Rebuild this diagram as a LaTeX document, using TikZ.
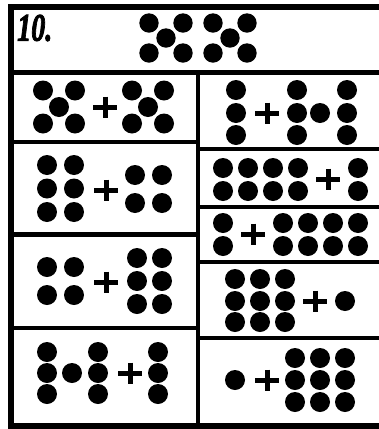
\documentclass[tikz,border=0pt]{standalone}
\usepackage{fontspec}
\setmainfont{Liberation Serif}
\newfontfamily\titlefont{Liberation Serif}[BoldItalicFeatures={FakeBold=2.5}]
\begin{document}
\begin{tikzpicture}[x=1pt,y=-1pt,
  frame/.style={line width=5.5pt,line cap=rect},
  rule/.style={line width=4.5pt},
  plussign/.pic={\draw[line width=5pt] (-12,0)--(12,0) (0,-10.5)--(0,10.5);}]
\useasboundingbox (0,0) rectangle (379,429);
\fill[white] (0,0) rectangle (379,429);
% frame and rules
\draw[frame] (385,7) -- (11,7) -- (11,426) -- (385,426);
\draw[rule] (11,72.5) -- (385,72.5);
\draw[rule] (198,72.5) -- (198,426);
\foreach \y in {142,234.5,328} \draw[rule] (11,\y) -- (198,\y);
\foreach \y in {149,207,262,338} \draw[rule] (198,\y) -- (385,\y);
% title
\node[anchor=west,inner sep=0pt] (title) at (17,28) {\scalebox{0.72}[1]{\fontsize{39}{39}\selectfont\titlefont\bfseries\itshape 10.}};
% header crosses
\foreach \cx in {166,230} {
  \foreach \dx/\dy in {-17/-15,17/-15,0/0,-17/15,17/15}
    \fill (\cx+\dx,38+\dy) circle[radius=9.7pt];
}
% left cell 1
\foreach \cx in {59,148} {
  \foreach \dx/\dy in {-16/-16.5,16/-16.5,0/0,-16/16.5,16/16.5}
    \fill (\cx+\dx,107+\dy) circle[radius=10pt];
}
\pic at (105,107) {plussign};
% right cell 1
\foreach \x in {236,297,347} \foreach \y in {90,113,135} \fill (\x,\y) circle[radius=10pt];
\fill (320,113) circle[radius=10pt];
\pic at (267,113) {plussign};
% left cell 2
\foreach \x in {47,74} \foreach \y in {165,188.5,212} \fill (\x,\y) circle[radius=10pt];
\pic at (106,190) {plussign};
\foreach \x in {135,162} \foreach \y in {175,203} \fill (\x,\y) circle[radius=10pt];
% right cell 2
\foreach \x in {223,248,273,298} \foreach \y in {168,191} \fill (\x,\y) circle[radius=10pt];
\pic at (328,179) {plussign};
\foreach \y in {168,191} \fill (358,\y) circle[radius=10pt];
% right cell 3
\foreach \y in {223,246} \fill (223,\y) circle[radius=10pt];
\pic at (253,234) {plussign};
\foreach \x in {283,308,333,358} \foreach \y in {223,246} \fill (\x,\y) circle[radius=10pt];
% left cell 3
\foreach \x in {47,74} \foreach \y in {267,295} \fill (\x,\y) circle[radius=10pt];
\pic at (106,282) {plussign};
\foreach \x in {137,162} \foreach \y in {258,281,304} \fill (\x,\y) circle[radius=10pt];
% right cell 4
\foreach \x in {235,260,285} \foreach \y in {279,301,322} \fill (\x,\y) circle[radius=10pt];
\pic at (315,301) {plussign};
\fill (345,301) circle[radius=10pt];
% left cell 4
\foreach \x in {47,98,158} \foreach \y in {352,373,394} \fill (\x,\y) circle[radius=10pt];
\fill (72,373) circle[radius=10pt];
\pic at (130,373) {plussign};
% right cell 5
\fill (235,380) circle[radius=10pt];
\pic at (267,380) {plussign};
\foreach \x in {295,320,345} \foreach \y in {358,380,402} \fill (\x,\y) circle[radius=10pt];
\end{tikzpicture}
\end{document}
